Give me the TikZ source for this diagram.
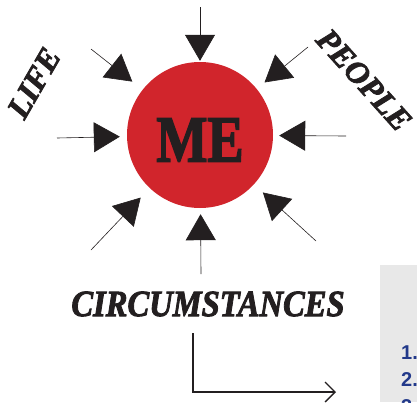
\documentclass[tikz,border=0pt]{standalone}
\usepackage{fontspec}
\setmainfont{Liberation Serif}
\newfontfamily\heavyfont[FakeBold=2.5]{Liberation Serif}
\newfontfamily\numfont{Liberation Sans}
\usepackage{tikz}
\usetikzlibrary{arrows.meta,positioning,calc}
\definecolor{mered}{HTML}{D1252C}
\definecolor{ink}{HTML}{231F20}
\definecolor{panelgray}{HTML}{E8E8E8}
\definecolor{listblue}{HTML}{22398A}

\begin{document}
\begin{tikzpicture}[x=1pt,y=-1pt,
   inarrow/.style={draw=ink,line width=0.6pt,
                   -{Triangle[length=26pt,width=30pt]}},
   bigword/.style={font=\heavyfont\bfseries\itshape\fontsize{32}{32}\selectfont,text=ink,inner sep=0pt},
   numlabel/.style={font=\numfont\bfseries\fontsize{20}{20}\selectfont,text=listblue,
                    anchor=base west,inner sep=0pt}]
  \useasboundingbox (0,0) rectangle (417,402);
  \clip (0,0) rectangle (417,402);
  % side panel
  \fill[panelgray] (380,265) rectangle (417,402);
  \node[numlabel] (n1) at (401,359) {1.};
  \node[numlabel] (n2) at (401,386) {2.};
  \node[numlabel] (n3) at (401,413) {3.};
  % centre
  \node[circle,fill=mered,minimum size=146pt,inner sep=0pt] (me) at (200,135) {};
  \node[font=\heavyfont\bfseries\fontsize{66}{66}\selectfont,text=ink,xscale=0.82,inner sep=0pt]
    (melabel) at ([yshift=-5pt]me.center) {ME};
  % the words
  \node[bigword,rotate=60] (life) at (34,83) {LIFE};
  \node[bigword,rotate=-48] (people) at (364,80) {PEOPLE};
  \node[bigword,font=\heavyfont\bfseries\itshape\fontsize{37}{37}\selectfont,xscale=0.88]
    (circ) at (208,304) {CIRCUMSTANCES};
  % arrows into the circle
  \coordinate (top) at (200,7);
  \coordinate (ul) at (91,49);
  \coordinate (ur) at (308,47);
  \coordinate (lft) at (57,138);
  \coordinate (rgt) at (346,136);
  \coordinate (ll) at (91,250);
  \coordinate (lr) at (316,241);
  \coordinate (bot) at (201,274);
  \draw[inarrow,shorten >=1pt] (top) -- (me);
  \draw[inarrow,shorten >=6pt] (bot) -- (me);
  \draw[inarrow,shorten >=7pt] (lft) -- (me);
  \draw[inarrow,shorten >=6pt] (rgt) -- (me);
  \draw[inarrow,shorten >=13pt] (ul) -- (me);
  \draw[inarrow,shorten >=10pt] (ur) -- (me);
  \draw[inarrow,shorten >=13pt] (ll) -- (me);
  \draw[inarrow,shorten >=12pt] (lr) -- (me);
  % pointer to the list
  \coordinate (lstart) at (193,333);
  \coordinate (lend) at (336,392);
  \draw[ink,line width=1.3pt,-{Straight Barb[length=10pt,width=20pt]}] (lstart) |- (lend);
\end{tikzpicture}
\end{document}
